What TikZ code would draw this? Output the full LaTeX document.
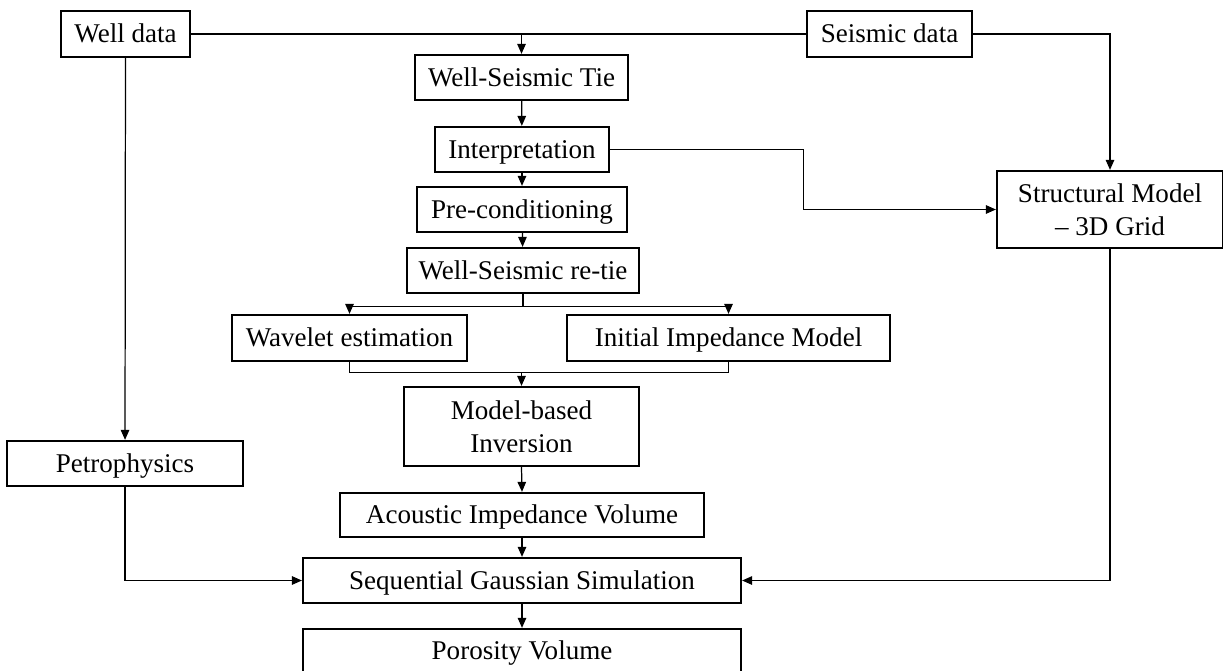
\documentclass[tikz,border=0pt]{standalone}
\usepackage{fontspec}
\setmainfont{Liberation Serif}
\usetikzlibrary{arrows.meta}

\tikzset{
  stage/.style={draw, line width=1.3pt, inner sep=0pt, align=center,
    font=\fontsize{15.4}{18.8}\selectfont},
  oneline/.style={stage, text height=13pt, text depth=2.8pt},
  link/.style={line width=0.7pt},
  arr/.style={link, -{Triangle[length=2mm,width=1.7mm]}}
}

\begin{document}
\begin{tikzpicture}[x=0.02cm, y=-0.02cm]
  \useasboundingbox (0,0) rectangle (1223,670);

  \node[oneline, minimum width=2.58cm, minimum height=0.92cm] (welldata) at (125.5,34) {Well data};
  \node[oneline, minimum width=3.3cm, minimum height=0.92cm] (seisdata) at (889.5,34) {Seismic data};
  \node[oneline, minimum width=4.26cm, minimum height=0.9cm] (tie) at (521.5,77.5) {Well-Seismic Tie};
  \node[oneline, minimum width=3.48cm, minimum height=0.9cm] (interp) at (522,149.5) {Interpretation};
  \node[oneline, minimum width=4.2cm, minimum height=0.9cm] (precond) at (522,209.5) {Pre-conditioning};
  \node[oneline, minimum width=4.64cm, minimum height=0.9cm] (retie) at (523,270.5) {Well-Seismic re-tie};
  \node[stage, minimum width=4.52cm, minimum height=1.54cm] (structmodel) at (1110,209.5) {Structural Model\\ -- 3D Grid};
  \node[oneline, minimum width=4.7cm, minimum height=0.92cm] (wavelet) at (349.5,338) {Wavelet estimation};
  \node[oneline, minimum width=6.46cm, minimum height=0.92cm] (initmodel) at (728.5,338) {Initial Impedance Model};
  \node[stage, minimum width=4.7cm, minimum height=1.58cm] (inversion) at (521.5,426.5) {Model-based\\ Inversion};
  \node[oneline, minimum width=4.72cm, minimum height=0.9cm] (petro) at (125,463.5) {Petrophysics};
  \node[oneline, minimum width=7.28cm, minimum height=0.88cm] (aivol) at (522,515) {Acoustic Impedance Volume};
  \node[oneline, minimum width=8.76cm, minimum height=0.9cm] (sgs) at (522,580.5) {Sequential Gaussian Simulation};
  \node[oneline, minimum width=8.76cm, minimum height=0.88cm] (porvol) at (522,651) {Porosity Volume};

  \path (retie.south) ++(0,12) coordinate (split);
  \path (inversion.north) ++(0,-13) coordinate (join);

  \draw[link] (welldata.east) -- (seisdata.west);
  \draw[arr] (welldata.east -| tie.north) -- (tie.north);
  \draw[arr] (seisdata.east) -| (structmodel.north);
  \draw[arr] (tie) -- (interp);
  \draw[arr] (interp) -- (precond);
  \draw[arr] (interp.east) -- ++(193,0) |- (structmodel.west);
  \draw[arr] (precond) -- (retie);
  \draw[link] (retie.south) -- (split);
  \draw[arr] (split) -| (wavelet.north);
  \draw[arr] (split) -| (initmodel.north);
  \draw[link] (wavelet.south) |- (join) -| (initmodel.south);
  \draw[arr] (join) -- (inversion.north);
  \draw[arr] (inversion.south) -- (aivol.north);
  \draw[arr] (aivol) -- (sgs);
  \draw[arr] (sgs) -- (porvol);
  \draw[arr] (welldata) -- (petro);
  \draw[arr] (petro.south) |- (sgs.west);
  \draw[arr] (structmodel.south) |- (sgs.east);
\end{tikzpicture}
\end{document}
